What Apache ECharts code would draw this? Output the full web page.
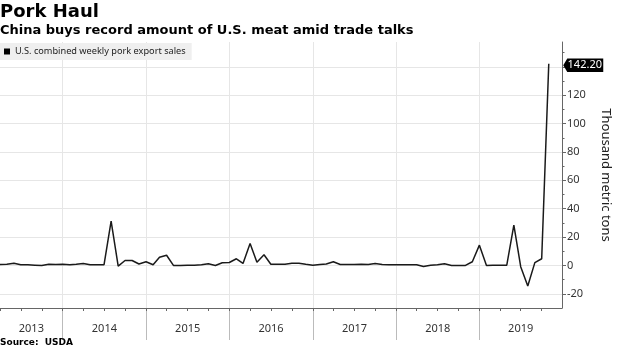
<!DOCTYPE html>
<html><head><meta charset="utf-8">
<script src="https://cdn.jsdelivr.net/npm/echarts@6/dist/echarts.min.js"></script>
<style>html,body{margin:0;padding:0;background:#fff}#c{width:620px;height:348px}</style>
</head><body><div id="c"></div>
<script>
// U.S. combined weekly pork export sales (thousand metric tons), monthly readings
const firstYear = 2013, firstMonth = 4; // April 2013
const sales2013 = [0.7, 0.8, 1.6, 0.5, 0.4, 0.2, 0.0, 0.9, 0.7];
const sales2014 = [0.8, 0.5, 0.8, 1.3, 0.5, 0.5, 0.5, 31.2, -0.5, 3.5, 3.5, 1.0];
const sales2015 = [2.6, 0.5, 5.8, 7.2, 0.0, 0.0, 0.1, 0.2, 0.5, 1.2, 0.0, 1.9];
const sales2016 = [2.1, 4.7, 1.4, 15.4, 2.3, 7.5, 0.8, 0.9, 0.9, 1.6, 1.5, 0.8];
const sales2017 = [0.2, 0.7, 1.0, 2.6, 0.7, 0.7, 0.7, 0.8, 0.7, 1.4, 0.7, 0.5];
const sales2018 = [0.5, 0.5, 0.5, 0.5, -0.8, 0.2, 0.5, 1.2, 0.0, 0.0, 0.0, 2.6];
const sales2019 = [14.3, 0.0, 0.1, 0.2, 0.2, 28.4, -0.9, -14.5, 2.0, 4.7, 142.2];

const yearLabels = ['2013', '2014', '2015', '2016', '2017', '2018', '2019'];
const yTickLabels = [-20, 0, 20, 40, 60, 80, 100, 120, 140];
const yMinorTicks = [-10, 10, 30, 50, 70, 90, 110, 130, 150];

const seriesName = 'U.S. combined weekly pork export sales';
const titleText = 'Pork Haul';
const subtitleText = 'China buys record amount of U.S. meat amid trade talks';
const sourceText = 'Source:  USDA';
const yAxisName = 'Thousand metric tons';

const allSales = [].concat(sales2013, sales2014, sales2015, sales2016, sales2017, sales2018, sales2019);
const seriesData = allSales.map((v, i) => {
  const m = firstMonth - 1 + i;
  return [Date.UTC(firstYear + Math.floor(m / 12), m % 12, 1), v];
});

const xMin = Date.UTC(2013, 3, 1);
const xMax = Date.UTC(2019, 11, 29);

const yearTicks = yearLabels.slice(1).map(y => Date.UTC(+y, 0, 1));
const yearLabelPos = yearLabels.map(y => {
  const lo = Math.max(xMin, Date.UTC(+y, 0, 1));
  const hi = Math.min(xMax, Date.UTC(+y + 1, 0, 1));
  return (lo + hi) / 2;
});
const quarterTicks = [];
for (let y = 2013; y <= 2019; y++) for (let q = 0; q < 12; q += 3) {
  const t = Date.UTC(y, q, 1);
  if (t >= xMin && t <= xMax) quarterTicks.push(t);
}

const FONT = 'Noto Sans';
const chart = echarts.init(document.getElementById('c'), null, {renderer: 'canvas'});
chart.setOption({
  animation: false,
  backgroundColor: '#fff',
  title: [
    {text: titleText, left: 0, top: 3, padding: 0,
     textStyle: {fontFamily: 'DejaVu Sans', fontWeight: 'bold', fontSize: 18, color: '#000'}},
    {text: subtitleText, left: 0, top: 24, padding: 0,
     textStyle: {fontFamily: 'DejaVu Sans', fontWeight: 'bold', fontSize: 13, color: '#000'}},
    {text: sourceText, left: 0, top: 338, padding: 0,
     textStyle: {fontFamily: 'DejaVu Sans', fontWeight: 'bold', fontSize: 9, color: '#000'}}
  ],
  legend: {
    left: 0, top: 43, padding: [4, 6, 4, 4],
    backgroundColor: '#efefef',
    icon: 'rect', itemWidth: 6, itemHeight: 6,
    textStyle: {fontFamily: FONT, fontSize: 9.2, color: '#222'},
    data: [seriesName]
  },
  grid: {left: 0, right: 58, top: 42, bottom: 40, containLabel: false},
  xAxis: [
    {
      type: 'value', min: xMin, max: xMax, position: 'bottom', scale: true,
      axisLine: {show: true, onZero: false, lineStyle: {color: '#666', width: 1}},
      axisTick: {show: true, customValues: yearTicks, length: 32, lineStyle: {color: '#bbb'}},
      axisLabel: {show: true, customValues: yearLabelPos, margin: 15,
        formatter: v => String(new Date(v).getUTCFullYear()),
        fontFamily: FONT, fontSize: 11, color: '#333'},
      splitLine: {show: true, lineStyle: {color: '#e6e6e6', width: 1}}
    },
    {
      type: 'value', min: xMin, max: xMax, position: 'bottom', scale: true,
      axisLine: {show: false, onZero: false},
      axisTick: {show: true, customValues: quarterTicks, length: 3, lineStyle: {color: '#666'}},
      axisLabel: {show: false},
      splitLine: {show: false}
    }
  ],
  yAxis: [
    {
      type: 'value', position: 'right', min: -30, max: 157.5,
      name: yAxisName, nameLocation: 'middle', nameRotate: -90, nameGap: 37,
      nameTextStyle: {fontFamily: FONT, fontSize: 13, color: '#222'},
      axisLine: {show: true, onZero: false, lineStyle: {color: '#666', width: 1}},
      axisTick: {show: true, customValues: yTickLabels, length: 4, lineStyle: {color: '#666'}},
      axisLabel: {show: true, customValues: yTickLabels, margin: 5,
        fontFamily: FONT, fontSize: 11, color: '#333'},
      splitLine: {show: true, lineStyle: {color: '#e6e6e6', width: 1}}
    },
    {
      type: 'value', position: 'right', min: -30, max: 157.5,
      axisLine: {show: false, onZero: false},
      axisTick: {show: true, customValues: yMinorTicks, length: 2.5, lineStyle: {color: '#666'}},
      axisLabel: {show: false},
      splitLine: {show: false}
    }
  ],
  series: [{
    name: seriesName,
    type: 'line',
    xAxisIndex: 0, yAxisIndex: 0,
    data: seriesData,
    showSymbol: false,
    symbol: 'none',
    color: '#000',
    itemStyle: {color: '#000'},
    lineStyle: {color: '#1a1a1a', width: 1.5},
    markPoint: {
      data: [{type: 'max'}],
      symbol: 'path://M0,6.75 L4,0 L40,0 L40,13.5 L4,13.5 Z',
      symbolSize: [40, 13.5],
      symbolOffset: [34.5, 1.5],
      itemStyle: {color: '#000'},
      label: {show: true, position: 'inside', offset: [1.5, 0],
        formatter: p => p.value.toFixed(2),
        fontFamily: FONT, fontSize: 11, color: '#fff'}
    }
  }]
});
</script>
</body></html>
